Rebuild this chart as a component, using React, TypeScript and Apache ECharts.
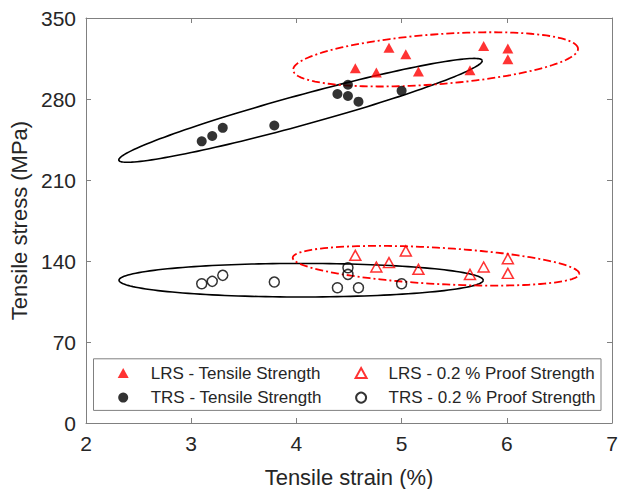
import React, { useEffect, useRef } from "react";
import * as echarts from "echarts";

// Strain (%) and stress (MPa) values
const lrsTensileX = [4.56, 4.76, 4.88, 5.04, 5.16, 5.65, 5.78, 6.01, 6.01];
const lrsTensileY = [306.6, 302.9, 324.3, 318.6, 303.7, 304.9, 325.7, 323.7, 314.3];
const lrsProofX = [4.56, 4.76, 4.88, 5.04, 5.16, 5.65, 5.78, 6.01, 6.01];
const lrsProofY = [144.9, 134.8, 138.6, 148.7, 132.8, 128.4, 134.8, 142.0, 129.3];
const trsTensileX = [3.1, 3.2, 3.3, 3.79, 4.39, 4.49, 4.49, 4.59, 5.0];
const trsTensileY = [243.4, 248.0, 255.1, 257.1, 284.3, 292.3, 282.6, 277.7, 287.1];
const trsProofX = [3.1, 3.2, 3.3, 3.79, 4.39, 4.49, 4.49, 4.59, 5.0];
const trsProofY = [120.3, 122.4, 127.6, 121.8, 116.9, 134.2, 128.4, 116.9, 120.3];

// Ellipses: [centerX, centerY, semiAxis1X, semiAxis1Y, semiAxis2X, semiAxis2Y] in data units
const ellipseTrsTensile = [4.039, 270.2, 1.727, 43.1, -0.038, 12.5];
const ellipseLrsTensile = [5.323, 314.25, 1.354, 9.35, -0.018, 21.5];
const ellipseTrsProof = [4.045, 123.4, 1.731, 0, 0, 14.5];
const ellipseLrsProof = [5.327, 135.9, 1.362, -7.0, 0.0098, 15.67];

const xTicks = [2, 3, 4, 5, 6, 7];
const yTicks = [0, 70, 140, 210, 280, 350];

const names = [
  "LRS - Tensile Strength",
  "TRS - Tensile Strength",
  "LRS - 0.2 % Proof Strength",
  "TRS - 0.2 % Proof Strength",
];

const FONT = "'Liberation Sans', Arial, Helvetica, sans-serif";
const TEXT = "#262626";
const AXIS = "#808080";

export default function App() {
  const ref = useRef<HTMLDivElement>(null);

  useEffect(() => {
    const chart = echarts.init(ref.current!, null, { renderer: "svg" });
    const pts = (xs: number[], ys: number[]) => xs.map((x, i) => [x, ys[i]]);

    const ellipse = (p: number[], color: string, dash: any, width: number) => ({
      type: "custom",
      coordinateSystem: "cartesian2d",
      silent: true,
      clip: false,
      z: 3,
      data: [p],
      renderItem: (_params: any, api: any) => {
        const [cx, cy, ux, uy, vx, vy] = p;
        const points: number[][] = [];
        const n = 160;
        for (let k = 0; k <= n; k++) {
          const t = (2 * Math.PI * k) / n;
          const c = Math.cos(t);
          const s = Math.sin(t);
          points.push(api.coord([cx + ux * c + vx * s, cy + uy * c + vy * s]));
        }
        return {
          type: "polyline",
          shape: { points },
          style: { stroke: color, lineWidth: width, lineDash: dash, fill: null },
        };
      },
    });

    const axisCommon = {
      axisLine: { show: true, onZero: false, lineStyle: { color: AXIS, width: 1 } },
      axisTick: { show: true, inside: true, length: 5, lineStyle: { color: AXIS } },
      splitLine: { show: false },
    };

    const legendCommon = {
      top: 363,
      orient: "vertical",
      padding: 0,
      itemWidth: 11,
      itemHeight: 10,
      itemGap: 4.6,
      selectedMode: false,
      symbolKeepAspect: true,
      textStyle: {
        fontSize: 17,
        color: TEXT,
        fontFamily: FONT,
        lineHeight: 20,
        padding: [0, 0, 0, 17],
      },
    };

    chart.setOption({
      animation: false,
      backgroundColor: "#ffffff",
      grid: {
        left: 86,
        right: 7,
        top: 18,
        bottom: 66,
        containLabel: false,
        outerBoundsMode: "none",
      },
      xAxis: [
        {
          type: "value",
          min: xTicks[0],
          max: xTicks[xTicks.length - 1],
          interval: 1,
          position: "bottom",
          name: "Tensile strain (%)",
          nameLocation: "middle",
          nameGap: 43,
          nameTextStyle: { fontSize: 22, color: TEXT, fontFamily: FONT },
          axisLabel: { fontSize: 21, color: TEXT, fontFamily: FONT, margin: 10 },
          ...axisCommon,
        },
        {
          type: "value",
          min: xTicks[0],
          max: xTicks[xTicks.length - 1],
          interval: 1,
          position: "top",
          axisLabel: { show: false },
          ...axisCommon,
        },
      ],
      yAxis: [
        {
          type: "value",
          min: yTicks[0],
          max: yTicks[yTicks.length - 1],
          interval: 70,
          position: "left",
          name: "Tensile stress (MPa)",
          nameLocation: "middle",
          nameGap: 52,
          nameTextStyle: { fontSize: 22, color: TEXT, fontFamily: FONT },
          axisLabel: { fontSize: 21, color: TEXT, fontFamily: FONT, margin: 10 },
          ...axisCommon,
        },
        {
          type: "value",
          min: yTicks[0],
          max: yTicks[yTicks.length - 1],
          interval: 70,
          position: "right",
          axisLabel: { show: false },
          ...axisCommon,
        },
      ],
      legend: [
        { ...legendCommon, left: 117.7, data: [names[0], names[1]] },
        { ...legendCommon, left: 354.6, data: [names[2], names[3]] },
      ],
      graphic: [
        {
          type: "rect",
          shape: { x: 93.5, y: 358.8, width: 507.5, height: 51.6 },
          style: { fill: "#ffffff", stroke: AXIS, lineWidth: 1 },
          z: 1,
          silent: true,
        },
      ],
      series: [
        ellipse(ellipseTrsTensile, "#000000", null, 1.6),
        ellipse(ellipseTrsProof, "#000000", null, 1.6),
        ellipse(ellipseLrsTensile, "#ff0000", [8, 3, 2, 3], 1.8),
        ellipse(ellipseLrsProof, "#ff0000", [8, 3, 2, 3], 1.8),
        {
          name: names[0],
          type: "scatter",
          symbol: "triangle",
          symbolSize: [11, 10],
          itemStyle: { color: "#ff0000" },
          data: pts(lrsTensileX, lrsTensileY),
          z: 4,
        },
        {
          name: names[1],
          type: "scatter",
          symbol: "circle",
          symbolSize: 10,
          itemStyle: { color: "#000000" },
          data: pts(trsTensileX, trsTensileY),
          z: 4,
        },
        {
          name: names[2],
          type: "scatter",
          symbol: "triangle",
          symbolSize: [11, 10],
          itemStyle: { color: "rgba(255,255,255,0)", borderColor: "#ff0000", borderWidth: 1.5 },
          data: pts(lrsProofX, lrsProofY),
          z: 4,
        },
        {
          name: names[3],
          type: "scatter",
          symbol: "circle",
          symbolSize: 10,
          itemStyle: { color: "rgba(255,255,255,0)", borderColor: "#000000", borderWidth: 1.5 },
          data: pts(trsProofX, trsProofY),
          z: 4,
        },
      ],
    });

    return () => chart.dispose();
  }, []);

  return (
    <div
      ref={ref}
      style={{ position: "absolute", left: 0, top: 0, width: 619, height: 489 }}
    />
  );
}
